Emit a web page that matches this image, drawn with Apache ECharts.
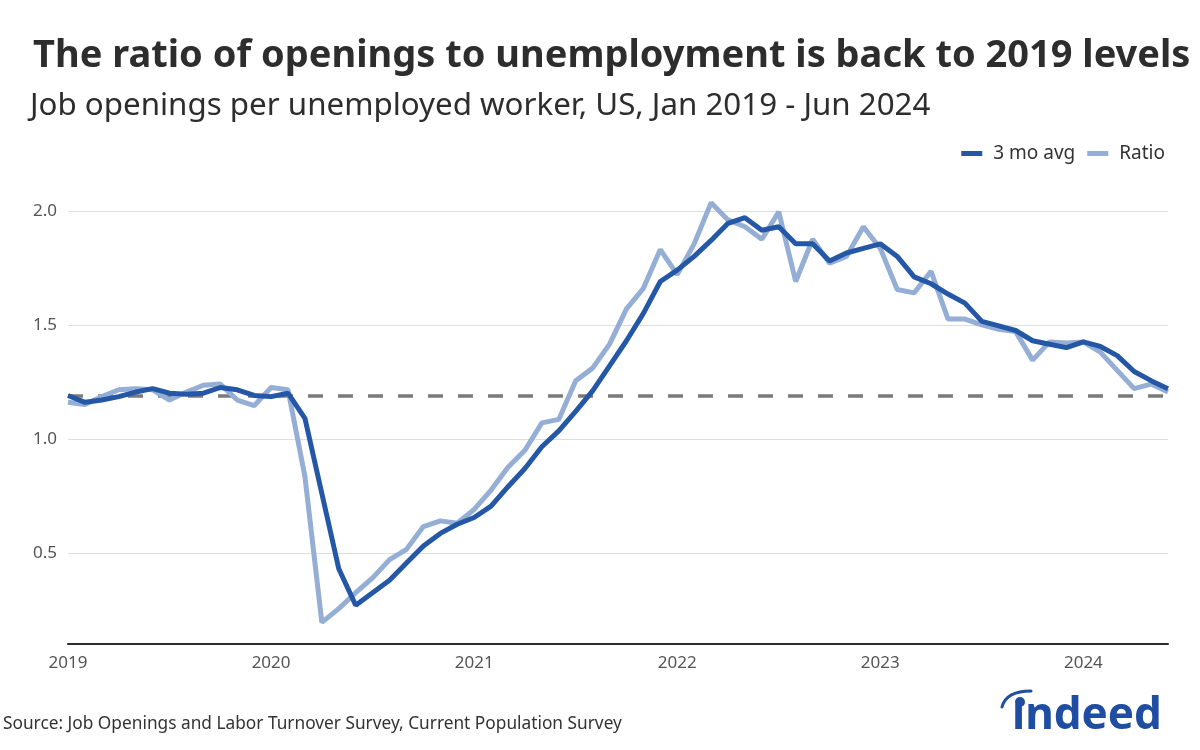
<!DOCTYPE html>
<html>
<head>
<meta charset="utf-8">
<script src="https://cdn.jsdelivr.net/npm/echarts@6/dist/echarts.min.js"></script>
<style>
  html, body { margin: 0; padding: 0; background: #ffffff; }
  #chart { width: 1200px; height: 750px; }
</style>
</head>
<body>
<div id="chart"></div>
<script>
// ---- data ----
const startYear = 2019;
const monthsCount = 66; // Jan 2019 - Jun 2024
const months = [];
for (let i = 0; i < monthsCount; i++) {
  const y = startYear + Math.floor(i / 12);
  const m = (i % 12) + 1;
  months.push(y + '-' + (m < 10 ? '0' + m : m));
}
const ratio = [
  1.16, 1.15, 1.185, 1.215, 1.22, 1.215, 1.17, 1.205, 1.235, 1.24, 1.17, 1.145,
  1.225, 1.215, 0.835, 0.195, 0.255, 0.325, 0.39, 0.47, 0.515, 0.615, 0.64, 0.63,
  0.69, 0.775, 0.875, 0.95, 1.07, 1.085, 1.255, 1.31, 1.415, 1.57, 1.66, 1.83,
  1.72, 1.855, 2.035, 1.96, 1.93, 1.875, 1.995, 1.69, 1.875, 1.77, 1.80, 1.93,
  1.835, 1.655, 1.64, 1.735, 1.525, 1.525, 1.50, 1.48, 1.47, 1.345, 1.425, 1.42,
  1.425, 1.38, 1.30, 1.22, 1.24, 1.205
];
const avg3 = [
  1.19, 1.16, 1.17, 1.185, 1.205, 1.22, 1.20, 1.195, 1.20, 1.225, 1.215, 1.19,
  1.185, 1.20, 1.09, 0.76, 0.43, 0.27, 0.325, 0.38, 0.455, 0.53, 0.585, 0.625,
  0.655, 0.705, 0.79, 0.87, 0.965, 1.035, 1.12, 1.21, 1.32, 1.43, 1.55, 1.69,
  1.74, 1.80, 1.87, 1.945, 1.97, 1.915, 1.93, 1.855, 1.855, 1.78, 1.815, 1.835,
  1.855, 1.80, 1.71, 1.68, 1.635, 1.595, 1.515, 1.495, 1.475, 1.43, 1.415, 1.40,
  1.425, 1.405, 1.365, 1.295, 1.255, 1.22
];
const reference2019 = 1.19;
const yTicks = [0.5, 1.0, 1.5, 2.0];

// ---- chart ----
const FONT = 'Noto Sans';
const DARK = '#2557A7';
const LIGHT = '#94AED6';
const LOGO = '#1E4DA1';
const chart = echarts.init(document.getElementById('chart'), null, { renderer: 'canvas' });

chart.setOption({
  animation: false,
  backgroundColor: '#ffffff',
  textStyle: { fontFamily: FONT },
  title: [
    {
      text: 'The ratio of openings to unemployment is back to 2019 levels',
      left: 28, top: 32,
      textStyle: { fontFamily: FONT, fontSize: 38, fontWeight: 'bold', color: '#2d2d2d' }
    },
    {
      text: 'Job openings per unemployed worker, US, Jan 2019 - Jun 2024',
      left: 25, top: 86,
      textStyle: { fontFamily: FONT, fontSize: 31.3, fontWeight: 'normal', color: '#2d2d2d' }
    },
    {
      text: 'Source: Job Openings and Labor Turnover Survey, Current Population Survey',
      left: -2, top: 711,
      textStyle: { fontFamily: FONT, fontSize: 17.3, fontWeight: 'normal', color: '#333333' }
    }
  ],
  legend: {
    data: ['3 mo avg', 'Ratio'],
    right: 30, top: 139,
    icon: 'rect',
    itemWidth: 21, itemHeight: 5, itemGap: 12,
    textStyle: { fontFamily: FONT, fontSize: 19, color: '#333333', padding: [0, 0, 0, 6] }
  },
  grid: { left: 68, right: 32, top: 188, bottom: 106 },
  xAxis: {
    type: 'category',
    data: months,
    boundaryGap: false,
    axisLine: { show: true, lineStyle: { color: '#2d2d2d', width: 2 } },
    axisTick: { show: false },
    axisLabel: {
      fontFamily: FONT, fontSize: 17, color: '#555555', margin: 11,
      interval: function (idx, val) { return val.slice(5) === '01'; },
      formatter: function (val) { return val.slice(0, 4); }
    },
    splitLine: { show: false }
  },
  yAxis: {
    type: 'value',
    min: 0.1, max: 2.1,
    axisLine: { show: false },
    axisTick: { show: false, customValues: yTicks },
    axisLabel: {
      customValues: yTicks,
      fontFamily: FONT, fontSize: 17, color: '#555555', margin: 11,
      formatter: function (v) { return v.toFixed(1); }
    },
    splitLine: { show: true, lineStyle: { color: '#dddddd', width: 1 } }
  },
  series: [
    {
      name: 'Ratio',
      type: 'line',
      data: ratio,
      showSymbol: false,
      symbol: 'none',
      lineStyle: { color: LIGHT, width: 5 },
      itemStyle: { color: LIGHT },
      z: 3,
      markLine: {
        silent: true,
        symbol: 'none',
        z: 1,
        label: { show: false },
        lineStyle: { color: '#7a7a7a', width: 3.5, type: [15, 15] },
        data: [{ yAxis: reference2019 }]
      }
    },
    {
      name: '3 mo avg',
      type: 'line',
      data: avg3,
      showSymbol: false,
      symbol: 'none',
      lineStyle: { color: DARK, width: 5 },
      itemStyle: { color: DARK },
      z: 4
    }
  ],
  graphic: [
    {
      type: 'text',
      left: 1012, top: 694,
      style: {
        text: '\u0131ndeed',
        font: 'bold 44px "Noto Sans"',
        fill: LOGO
      }
    },
    {
      type: 'circle',
      shape: { cx: 1020, cy: 702, r: 5 },
      style: { fill: LOGO }
    },
    {
      type: 'bezierCurve',
      shape: { x1: 1002, y1: 707, cpx1: 1006, cpy1: 691, x2: 1031, y2: 691 },
      style: { stroke: LOGO, lineWidth: 3, fill: null, lineCap: 'round' }
    }
  ]
});
</script>
</body>
</html>
